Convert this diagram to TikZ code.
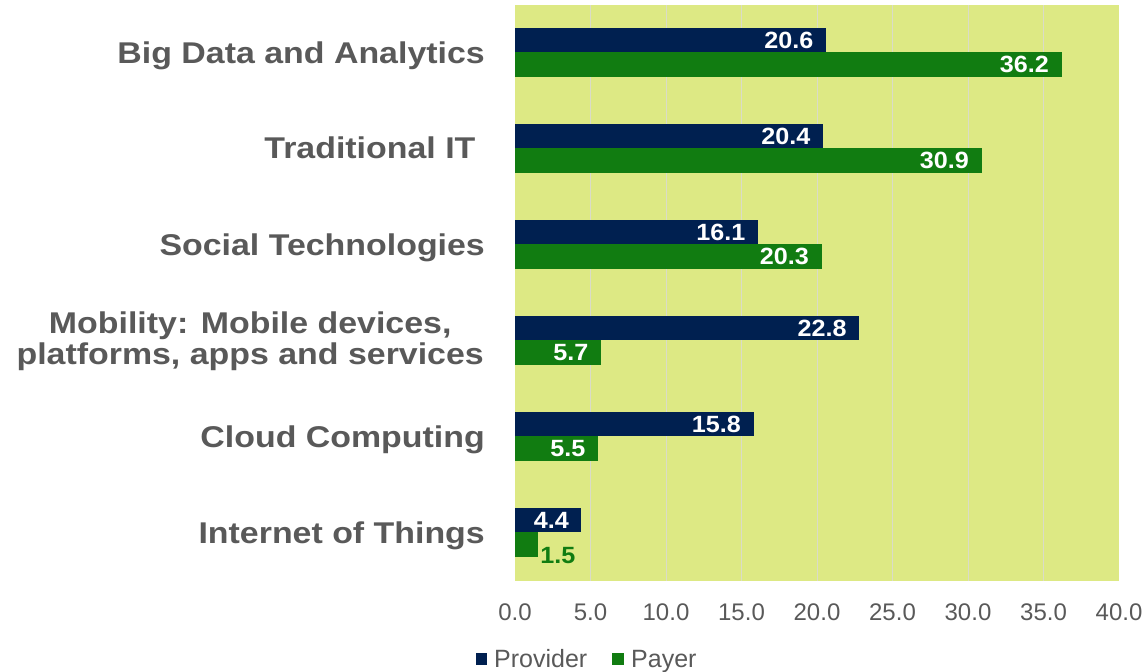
\documentclass[tikz,border=0pt]{standalone}
\usepackage{fontspec}
\setmainfont{Liberation Sans}
\newfontfamily\catfont[BoldFeatures={FakeStretch=1.13}]{Liberation Sans}
\newfontfamily\valfont[BoldFeatures={FakeStretch=1.07}]{Liberation Sans}
\definecolor{plotbg}{RGB}{221,233,132}
\definecolor{providerblue}{RGB}{0,32,80}
\definecolor{payergreen}{RGB}{17,124,17}
\definecolor{textgrey}{RGB}{89,89,89}
\definecolor{gridgrey}{RGB}{218,220,200}
\tikzset{
  catlabel/.style={font=\catfont\bfseries\fontsize{30}{31}\selectfont, text=textgrey, align=right, inner sep=0pt},
  provbar/.style={fill=providerblue},
  paybar/.style={fill=payergreen},
  barval/.style={anchor=east, font=\valfont\bfseries\fontsize{23.5}{25}\selectfont, text=white, inner sep=0pt, xshift=-12.5pt},
  outval/.style={anchor=west, font=\valfont\bfseries\fontsize{23.5}{25}\selectfont, text=payergreen, inner sep=0pt, xshift=2.5pt},
  ticklabel/.style={font=\fontsize{24}{26}\selectfont, text=textgrey, inner sep=0pt},
  legendtext/.style={anchor=base west, font=\fontsize{25}{27}\selectfont, text=textgrey, inner sep=0pt}
}
\begin{document}
\begin{tikzpicture}[x=1pt,y=-1pt]
                \useasboundingbox (0,0) rectangle (1146,672);
                % plot area
                \fill[plotbg] (515,5) rectangle (1119,581);
                \begin{scope}[xshift=515pt, x=15.1pt]
                \foreach \g in {5,10,...,35}
                    \draw[gridgrey, line width=1pt] (\g,5) -- (\g,581);
                \foreach \g in {0,5,...,40}
                    \node[ticklabel] (tick\g) at (\g,612) {\g.0};
                % Big Data and Analytics
                \fill[provbar] (0,28) rectangle (20.6,52);
                \fill[paybar] (0,52) rectangle (36.2,77);
                \node[barval] (prov1) at (20.6,40) {20.6};
                \node[barval] (pay1) at (36.2,64.5) {36.2};
                % Traditional IT
                \fill[provbar] (0,124) rectangle (20.4,148);
                \fill[paybar] (0,148) rectangle (30.9,173);
                \node[barval] (prov2) at (20.4,136) {20.4};
                \node[barval] (pay2) at (30.9,160.5) {30.9};
                % Social Technologies
                \fill[provbar] (0,220) rectangle (16.1,244);
                \fill[paybar] (0,244) rectangle (20.3,269);
                \node[barval] (prov3) at (16.1,232) {16.1};
                \node[barval] (pay3) at (20.3,256.5) {20.3};
                % Mobility
                \fill[provbar] (0,316) rectangle (22.8,340);
                \fill[paybar] (0,340) rectangle (5.7,365);
                \node[barval] (prov4) at (22.8,328) {22.8};
                \node[barval] (pay4) at (5.7,352.5) {5.7};
                % Cloud Computing
                \fill[provbar] (0,412) rectangle (15.8,436);
                \fill[paybar] (0,436) rectangle (5.5,461);
                \node[barval] (prov5) at (15.8,424) {15.8};
                \node[barval] (pay5) at (5.5,448.5) {5.5};
                % Internet of Things
                \fill[provbar] (0,508) rectangle (4.4,532);
                \fill[paybar] (0,532) rectangle (1.5,557);
                \node[barval] (prov6) at (4.4,520) {4.4};
                \node[outval] (pay6) at (1.5,556) {1.5};
                \end{scope}
                % category labels
                \node[catlabel, anchor=base east] (cat1) at (485,63) {Big Data and Analytics};
                \node[catlabel, anchor=base east] (cat2) at (485,158) {Traditional IT\ };
                \node[catlabel, anchor=base east] (cat3) at (485,255) {Social Technologies};
                \node[catlabel, anchor=east, align=center] (cat4) at (484,341) {Mobility: Mobile devices,\\platforms, apps and services};
                \node[catlabel, anchor=base east] (cat5) at (485,447) {Cloud Computing};
                \node[catlabel, anchor=base east] (cat6) at (485,543) {Internet of Things};
                % legend
                \fill[providerblue] (476,653) rectangle (487,665);
                \node[legendtext] (legprov) at (494,667) {Provider};
                \fill[payergreen] (612,653) rectangle (624,665);
                \node[legendtext] (legpay) at (631,667) {Payer};
            \end{tikzpicture}
\end{document}
